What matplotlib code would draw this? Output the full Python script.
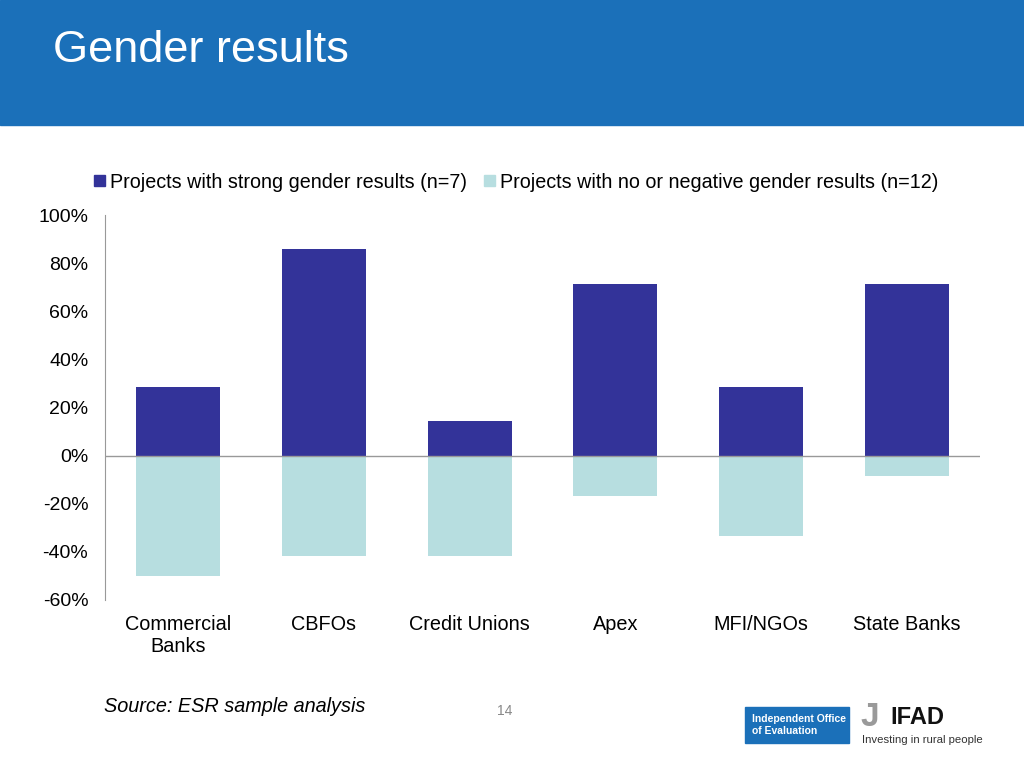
import matplotlib.pyplot as plt
import matplotlib.patches as mpatches
import numpy as np

plt.rcParams['font.family'] = ['Liberation Sans', 'DejaVu Sans']

# data (share of projects, %)
categories = ['Commercial\nBanks', 'CBFOs', 'Credit Unions', 'Apex', 'MFI/NGOs', 'State Banks']
strong = [28.6, 85.7, 14.3, 71.4, 28.6, 71.4]
negative = [-50.0, -41.7, -41.7, -16.7, -33.3, -8.3]
yticks = [-60, -40, -20, 0, 20, 40, 60, 80, 100]
labels = ['Projects with strong gender results (n=7)',
          'Projects with no or negative gender results (n=12)']

dark = '#333399'
light = '#B7DEE0'
header = '#1B70B9'

fig = plt.figure(figsize=(10.24, 7.68), dpi=100)

# header band
fig.patches.append(mpatches.Rectangle((0, 1 - 125 / 768), 1, 125 / 768,
                                      transform=fig.transFigure, color=header, zorder=0))
fig.text(53 / 1024, 1 - 50 / 768, 'Gender results', color='white', fontsize=32.5,
         va='center', ha='left')

ax = fig.add_axes([105 / 1024, 1 - 600 / 768, 875 / 1024, 385 / 768])
x = np.arange(len(categories))
ax.bar(x, strong, width=0.575, color=dark, zorder=2)
ax.bar(x, negative, width=0.575, color=light, zorder=2)
ax.axhline(0, color='#999999', lw=1, zorder=3)

ax.set_xlim(-0.5, len(categories) - 0.5)
ax.set_ylim(-60, 100)
ax.set_yticks(yticks)
ax.set_yticklabels([f'{v}%' for v in yticks], fontsize=14)
ax.set_xticks(x)
ax.set_xticklabels(categories, fontsize=14.3, linespacing=1.2)
ax.tick_params(axis='both', length=0)
ax.tick_params(axis='y', pad=12)
ax.tick_params(axis='x', pad=11)
for s in ['top', 'right', 'bottom']:
    ax.spines[s].set_visible(False)
ax.spines['left'].set_color('#999999')

handles = [mpatches.Patch(color=dark), mpatches.Patch(color=light)]
fig.legend(handles, labels, loc='center left', bbox_to_anchor=(76 / 1024, 1 - 182 / 768),
           ncol=2, frameon=False, fontsize=14.2, handlelength=0.55, handleheight=0.55,
           handletextpad=0.25, columnspacing=0.9)

# footer
fig.text(104 / 1024, 1 - 706 / 768, 'Source: ESR sample analysis', fontsize=14.3,
         style='italic', va='center')
fig.text(505 / 1024, 1 - 711 / 768, '14', fontsize=10, color='#888888',
         ha='center', va='center')

fig.patches.append(mpatches.Rectangle((745 / 1024, 1 - 743 / 768), 104 / 1024, 36 / 768,
                                      transform=fig.transFigure, color='#1B70B9'))
fig.text(752 / 1024, 1 - 725 / 768, 'Independent Office\nof Evaluation', color='white',
         fontsize=7.5, fontweight='bold', va='center', ha='left', linespacing=1.3)
fig.text(860 / 1024, 1 - 717 / 768, 'J', color='#9a9a9a', fontsize=24,
         fontweight='bold', va='center', ha='left')
fig.text(890 / 1024, 1 - 717 / 768, 'IFAD', color='#111111', fontsize=17,
         fontweight='bold', va='center', ha='left')
fig.text(862 / 1024, 1 - 740 / 768, 'Investing in rural people', color='#333333',
         fontsize=8.2, va='center', ha='left')

fig.savefig('out.png', dpi=100)
